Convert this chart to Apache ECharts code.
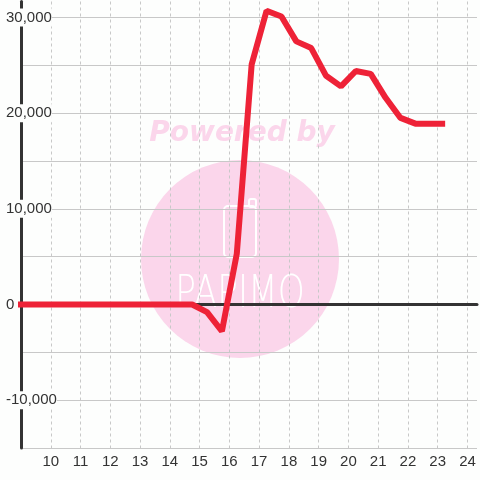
<!DOCTYPE html>
<html><head><meta charset="utf-8">
<script src="https://cdn.jsdelivr.net/npm/echarts@6/dist/echarts.min.js"></script>
<style>html,body{margin:0;padding:0;background:#fdfefd}#c{width:480px;height:480px}</style>
</head><body><div id="c"></div>
<script>
const hours = [8.75, 9.25, 9.75, 10.25, 10.75, 11.25, 11.75, 12.25, 12.75, 13.25, 13.75, 14.25, 14.75,
  15.25, 15.75, 16.25, 16.75, 17.25, 17.75, 18.25, 18.75, 19.25, 19.75, 20.25, 20.75, 21.25, 21.75, 22.25, 22.75, 23.25];
const values = [0, 0, 0, 0, 0, 0, 0, 0, 0, 0, 0, 0, 0,
  -800, -2800, 5300, 25100, 30700, 30100, 27500, 26800, 23900, 22800, 24400, 24100, 21600, 19500, 18900, 18900, 18900];
const xTickLabels = [10, 11, 12, 13, 14, 15, 16, 17, 18, 19, 20, 21, 22, 23, 24];
const yTickLabels = [-10000, 0, 10000, 20000, 30000];

const chart = echarts.init(document.getElementById('c'));
const pink = '#fbd6eb';
chart.setOption({
  backgroundColor: '#fdfefd',
  animation: false,
  grid: { left: 21, right: 0, top: 0, bottom: 32, containLabel: false },
  xAxis: [{
    type: 'value', min: 9, max: 24.32, interval: 1, position: 'bottom',
    axisLine: { show: false, onZero: false },
    axisTick: { show: false },
    axisLabel: {
      color: '#333', fontSize: 15, fontFamily: 'Liberation Sans, Arial', margin: 6,
      formatter: v => xTickLabels.includes(v) ? String(v) : ''
    },
    splitLine: { show: true, showMaxLine: false, lineStyle: { color: '#c8c8c8', width: 1, type: [3, 3] } }
  }, {
    type: 'value', min: 9, max: 24.32, position: 'bottom',
    axisLine: { show: true, onZero: true, lineStyle: { color: '#333', width: 3 } },
    axisTick: { show: false }, axisLabel: { show: false }, splitLine: { show: false }
  }],
  yAxis: {
    type: 'value', min: -15000, max: 31667, interval: 5000,
    axisLine: { show: true, onZero: false, lineStyle: { color: '#333', width: 3 } },
    axisTick: { show: false },
    axisLabel: {
      color: '#333', fontSize: 15, fontFamily: 'Liberation Sans, Arial',
      align: 'left', margin: 15, backgroundColor: '#fdfefd', padding: [2, 0, 1, 0],
      formatter: v => yTickLabels.includes(v) ? v.toLocaleString('en-US') : ''
    },
    splitLine: { show: true, showMaxLine: false, lineStyle: { color: '#c8c8c8', width: 1 } }
  },
  graphic: [
    { type: 'circle', z: -10, shape: { cx: 240, cy: 259, r: 99 }, style: { fill: pink } },
    { type: 'text', z: -10, x: 242, y: 134,
      style: { text: 'Powered by', font: 'italic bold 28px "DejaVu Sans"', fill: pink,
        align: 'center', verticalAlign: 'middle', textAlign: 'center', textVerticalAlign: 'middle' } },
    { type: 'rect', z: -9, shape: { x: 224, y: 206, width: 32, height: 51, r: 4 },
      style: { fill: 'none', stroke: '#fff', lineWidth: 2 } },
    { type: 'rect', z: -9, shape: { x: 249, y: 199, width: 7, height: 8, r: 2 },
      style: { fill: 'none', stroke: '#fff', lineWidth: 2 } },
    { type: 'text', z: -9, x: 240, y: 296, scaleX: 0.78, originX: 0, originY: 0,
      style: { text: 'PAPIMO', font: '200 44px "DejaVu Sans"', fill: '#fff',
        align: 'center', verticalAlign: 'middle', textAlign: 'center', textVerticalAlign: 'middle' } }
  ],
  series: [{
    type: 'line', xAxisIndex: 0,
    data: hours.map((h, i) => [h, values[i]]),
    showSymbol: false, clip: true,
    lineStyle: { color: '#ee2237', width: 6 },
    itemStyle: { color: '#ee2237' }
  }]
});
</script></body></html>
